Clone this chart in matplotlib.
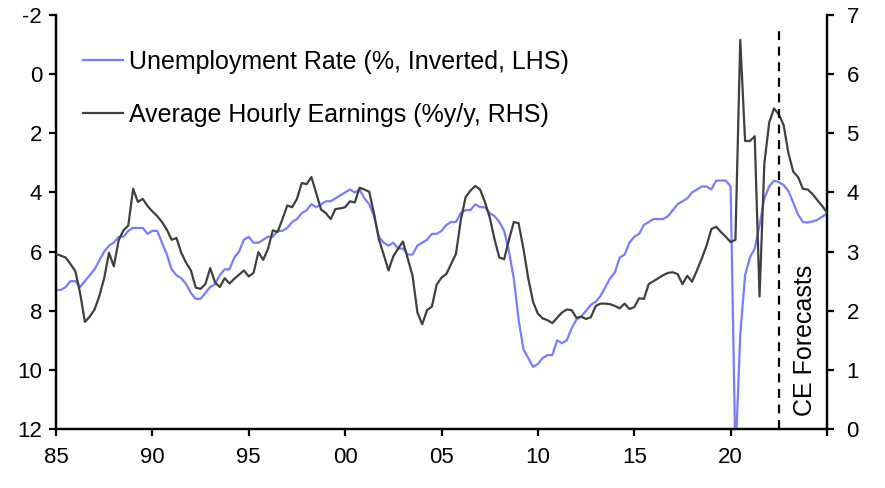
import matplotlib
matplotlib.use("Agg")
import matplotlib.pyplot as plt
import numpy as np

plt.rcParams['font.family'] = ['Liberation Sans', 'DejaVu Sans']
plt.rcParams['axes.unicode_minus'] = False

# Quarterly observations, 1985Q1 .. 2025Q1
start_year = 1985
unemployment = [
    7.3, 7.3, 7.2, 7.0,   7.0, 7.2, 7.0, 6.8,   6.6, 6.3, 6.0, 5.8,   5.7, 5.5, 5.5, 5.3,
    5.2, 5.2, 5.2, 5.4,   5.3, 5.3, 5.7, 6.1,   6.6, 6.8, 6.9, 7.1,   7.4, 7.6, 7.6, 7.4,
    7.2, 7.1, 6.8, 6.6,   6.6, 6.2, 6.0, 5.6,   5.5, 5.7, 5.7, 5.6,   5.5, 5.5, 5.3, 5.3,
    5.2, 5.0, 4.9, 4.7,   4.6, 4.4, 4.5, 4.4,   4.3, 4.3, 4.2, 4.1,   4.0, 3.9, 4.0, 3.9,
    4.2, 4.4, 4.8, 5.5,   5.7, 5.8, 5.7, 5.9,   5.9, 6.1, 6.1, 5.8,   5.7, 5.6, 5.4, 5.4,
    5.3, 5.1, 5.0, 5.0,   4.7, 4.6, 4.6, 4.4,   4.5, 4.5, 4.7, 4.8,   5.0, 5.3, 6.0, 6.9,
    8.3, 9.3, 9.6, 9.9,   9.8, 9.6, 9.5, 9.5,   9.0, 9.1, 9.0, 8.6,   8.3, 8.2, 8.0, 7.8,
    7.7, 7.5, 7.2, 6.9,   6.7, 6.2, 6.1, 5.7,   5.5, 5.4, 5.1, 5.0,   4.9, 4.9, 4.9, 4.8,
    4.6, 4.4, 4.3, 4.2,   4.0, 3.9, 3.8, 3.8,   3.9, 3.6, 3.6, 3.6,   3.8, 13.0, 8.8, 6.8,
    6.2, 5.9, 5.1, 4.2,   3.8, 3.6, 3.65, 3.75, 3.95, 4.35, 4.75, 5.0, 5.02, 4.98, 4.93, 4.82,
    4.72,
]
earnings = [
    2.96, 2.93, 2.90, 2.79,  2.67, 2.30, 1.81, 1.90,  2.02, 2.25, 2.55, 2.98,  2.75, 3.19, 3.36, 3.44,
    4.06, 3.84, 3.89, 3.77,  3.68, 3.60, 3.50, 3.37,  3.20, 3.23, 2.98, 2.81,  2.68, 2.39, 2.37, 2.45,
    2.72, 2.48, 2.40, 2.55,  2.46, 2.54, 2.61, 2.68,  2.58, 2.64, 2.99, 2.86,  3.05, 3.36, 3.33, 3.55,
    3.78, 3.75, 3.89, 4.16,  4.14, 4.26, 3.99, 3.71,  3.65, 3.55, 3.72, 3.73,  3.75, 3.85, 3.83, 4.08,
    4.05, 4.01, 3.64, 3.21,  2.95, 2.68, 2.92, 3.05,  3.17, 2.88, 2.59, 1.97,  1.77, 2.01, 2.07, 2.44,
    2.56, 2.62, 2.79, 2.96,  3.53, 3.92, 4.03, 4.11,  4.05, 3.84, 3.58, 3.21,  2.90, 2.87, 3.20, 3.50,
    3.48, 3.05, 2.55, 2.15,  1.95, 1.87, 1.84, 1.79,  1.88, 1.97, 2.02, 2.01,  1.88, 1.90, 1.86, 1.89,
    2.08, 2.12, 2.12, 2.11,  2.08, 2.04, 2.12, 2.03,  2.06, 2.21, 2.20, 2.45,  2.50, 2.55, 2.60, 2.64,
    2.65, 2.62, 2.45, 2.59,  2.49, 2.68, 2.88, 3.10,  3.38, 3.42, 3.33, 3.25,  3.16, 3.20, 6.58, 4.87,
    4.87, 4.95, 2.24, 4.49,  5.18, 5.42, 5.32, 5.14,  4.66, 4.35, 4.26, 4.06,  4.05, 3.97, 3.87, 3.77,
    3.66,
]
forecast_start = 2022.5
x_ticks = [1985, 1990, 1995, 2000, 2005, 2010, 2015, 2020, 2025]
x_ticklabels = ["85", "90", "95", "00", "05", "10", "15", "20", ""]
lhs_ticks = [-2, 0, 2, 4, 6, 8, 10, 12]
rhs_ticks = [0, 1, 2, 3, 4, 5, 6, 7]
labels = ["Unemployment Rate (%, Inverted, LHS)", "Average Hourly Earnings (%y/y, RHS)"]

dates = start_year + np.arange(len(unemployment)) / 4.0

fig = plt.figure(figsize=(8.85, 4.88), dpi=100)
ax = fig.add_axes([56/885, 1 - 429/488, (827-56)/885, (429-15)/488])
ax2 = ax.twinx()

blue = "#7b7bff"
dark = "#404040"

l1, = ax.plot(dates, unemployment, color=blue, lw=1.6, zorder=3)
l2, = ax2.plot(dates, earnings, color=dark, lw=1.6, zorder=3)

ax.set_xlim(1985, 2025)
ax.set_ylim(12, -2)
ax2.set_ylim(0, 7)
ax.set_xticks(x_ticks)
ax.set_xticklabels(x_ticklabels)
ax.set_yticks(lhs_ticks)
ax2.set_yticks(rhs_ticks)

for a in (ax, ax2):
    a.spines['top'].set_visible(False)
    for s in ('left', 'right', 'bottom'):
        a.spines[s].set_linewidth(1.6)
        a.spines[s].set_color('black')
    a.tick_params(direction='out', length=5, width=1.6, labelsize=16, colors='black')
ax.tick_params(axis='x', pad=8)
ax.tick_params(axis='y', pad=5)
ax2.tick_params(axis='y', pad=9)

ax2.axvline(forecast_start, ymax=0.971, color='black', lw=1.6, ls=(0, (4, 3)), zorder=4)
ax2.text(2023.85, 1.5, "CE Forecasts", rotation=90, fontsize=18, ha='center', va='center')

leg = ax2.legend([l1, l2], labels, loc='upper left', bbox_to_anchor=(0.022, 0.94),
                 frameon=False, fontsize=18, handlelength=1.6, handletextpad=0.25,
                 labelspacing=1.16, borderaxespad=0)

fig.savefig("out.png", dpi=100)
